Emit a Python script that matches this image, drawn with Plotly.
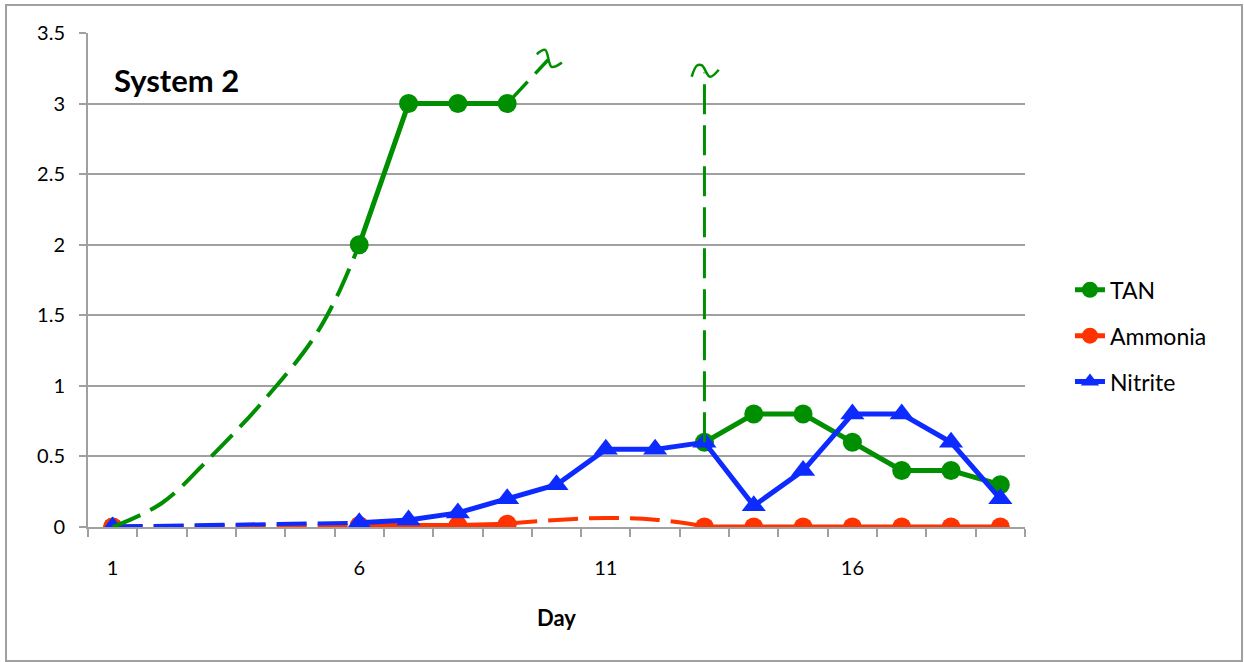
import plotly.graph_objects as go

days = list(range(1, 20))
tan = [0, None, None, None, None, 2, 3, 3, 3, None, None, None, 0.6, 0.8, 0.8, 0.6, 0.4, 0.4, 0.3]
ammonia = [0, None, None, None, None, 0.01, 0.01, 0.01, 0.02, None, None, None, 0, 0, 0, 0, 0, 0, 0]
nitrite = [0, None, None, None, None, 0.03, 0.05, 0.1, 0.2, 0.3, 0.55, 0.55, 0.6, 0.15, 0.4, 0.8, 0.8, 0.6, 0.2]

# hand-drawn dashed connectors (day, value)
tan_gap_x = [1, 2, 3, 4, 5, 5.5, 6]
tan_gap_y = [0, 0.17, 0.5, 0.87, 1.3, 1.6, 2.0]
tan_up_x = [9, 9.83]
tan_up_y = [3.0, 3.31]
tan_sq1_x = [9.6, 9.77, 9.9, 10.11]
tan_sq1_y = [3.35, 3.38, 3.26, 3.29]
tan_vert_x = [13, 13]
tan_vert_y = [0.6, 3.22]
tan_sq2_x = [12.74, 12.85, 12.95, 13.11, 13.29]
tan_sq2_y = [3.19, 3.27, 3.27, 3.19, 3.24]
amm_gap1_x = [1, 6]
amm_gap1_y = [0.005, 0.01]
amm_gap2_x = [9, 10, 11, 12, 13]
amm_gap2_y = [0.025, 0.05, 0.064, 0.052, 0.005]
nit_gap_x = [1, 6]
nit_gap_y = [0.003, 0.03]

y_ticks = [0, 0.5, 1, 1.5, 2, 2.5, 3, 3.5]
x_ticks = [1, 6, 11, 16]

GREEN = "#008f00"
RED = "#ff3300"
BLUE = "#0d2bff"
GRAY = "#a0a0a0"
FONT = "Lato"
DASH = "30px,11px"

fig = go.Figure()

def dashed(x, y, color, width=4, shape="linear"):
    fig.add_trace(go.Scatter(x=x, y=y, mode="lines", showlegend=False, hoverinfo="skip",
                             line=dict(color=color, width=width, dash=DASH, shape=shape)))

fig.add_trace(go.Scatter(x=days, y=tan, name="TAN", mode="lines+markers", legendgroup="a",
                         line=dict(color=GREEN, width=5), marker=dict(symbol="circle", size=19, color=GREEN),
                         connectgaps=False))
fig.add_trace(go.Scatter(x=days, y=ammonia, name="Ammonia", mode="lines+markers", legendgroup="b",
                         line=dict(color=RED, width=5), marker=dict(symbol="circle", size=19, color=RED),
                         connectgaps=False))
dashed(amm_gap1_x, amm_gap1_y, RED)
dashed(amm_gap2_x, amm_gap2_y, RED, shape="spline")
fig.add_trace(go.Scatter(x=days, y=nitrite, name="Nitrite", mode="lines+markers", legendgroup="c",
                         line=dict(color=BLUE, width=5), marker=dict(symbol="triangle-up", size=21, color=BLUE),
                         connectgaps=False))
dashed(nit_gap_x, nit_gap_y, BLUE)
dashed(tan_gap_x, tan_gap_y, GREEN, shape="spline")
dashed(tan_up_x, tan_up_y, GREEN, width=3.5)
dashed(tan_vert_x, tan_vert_y, GREEN, width=3)
for sx, sy in [(tan_sq1_x, tan_sq1_y), (tan_sq2_x, tan_sq2_y)]:
    fig.add_trace(go.Scatter(x=sx, y=sy, mode="lines", showlegend=False, hoverinfo="skip",
                             line=dict(color=GREEN, width=2.5, shape="spline")))

fig.update_layout(
    width=1244, height=662,
    margin=dict(l=88, r=219, t=33, b=135),
    paper_bgcolor="white", plot_bgcolor="white",
    font=dict(family=FONT, size=20, color="black"),
    showlegend=True,
    legend=dict(x=1.048, y=0.387, xanchor="left", yanchor="middle",
                font=dict(family=FONT, size=23, color="black"),
                traceorder="grouped", tracegroupgap=13, bgcolor="rgba(0,0,0,0)"),
    xaxis=dict(range=[0.5, 19.5], tickmode="array", tickvals=x_ticks, ticktext=[str(v) for v in x_ticks],
               ticks="", showgrid=False, zeroline=False, showline=True, linecolor=GRAY, linewidth=2,
               ticklabelstandoff=22, tickfont=dict(size=20),
               minor=dict(tick0=0.5, dtick=1, ticks="outside", ticklen=8, tickcolor=GRAY, tickwidth=2, showgrid=False)),
    yaxis=dict(range=[0, 3.5], tickmode="array", tickvals=y_ticks, ticktext=[str(v) for v in y_ticks],
               ticks="outside", ticklen=7, tickcolor=GRAY, tickwidth=2, tickfont=dict(size=20),
               showgrid=True, gridcolor=GRAY, gridwidth=1.5, zeroline=False,
               showline=True, linecolor=GRAY, linewidth=2, ticklabelstandoff=10),
    annotations=[
        dict(text="<b>System 2</b>", x=0.0256, y=0.905, xref="paper", yref="paper",
             xanchor="left", yanchor="middle", showarrow=False, font=dict(family=FONT, size=31, color="black")),
        dict(text="<b>Day</b>", x=0.5, y=-0.184, xref="paper", yref="paper",
             xanchor="center", yanchor="middle", showarrow=False, font=dict(family=FONT, size=22, color="black")),
    ],
    shapes=[dict(type="rect", xref="paper", yref="paper", x0=-0.0875, x1=1.2316, y0=-0.2713, y1=1.0567,
                 line=dict(color=GRAY, width=2), fillcolor="rgba(0,0,0,0)", layer="below")],
)

fig.write_html("out.html", config={"displayModeBar": False},
               post_script="document.body.style.margin='0px';")
